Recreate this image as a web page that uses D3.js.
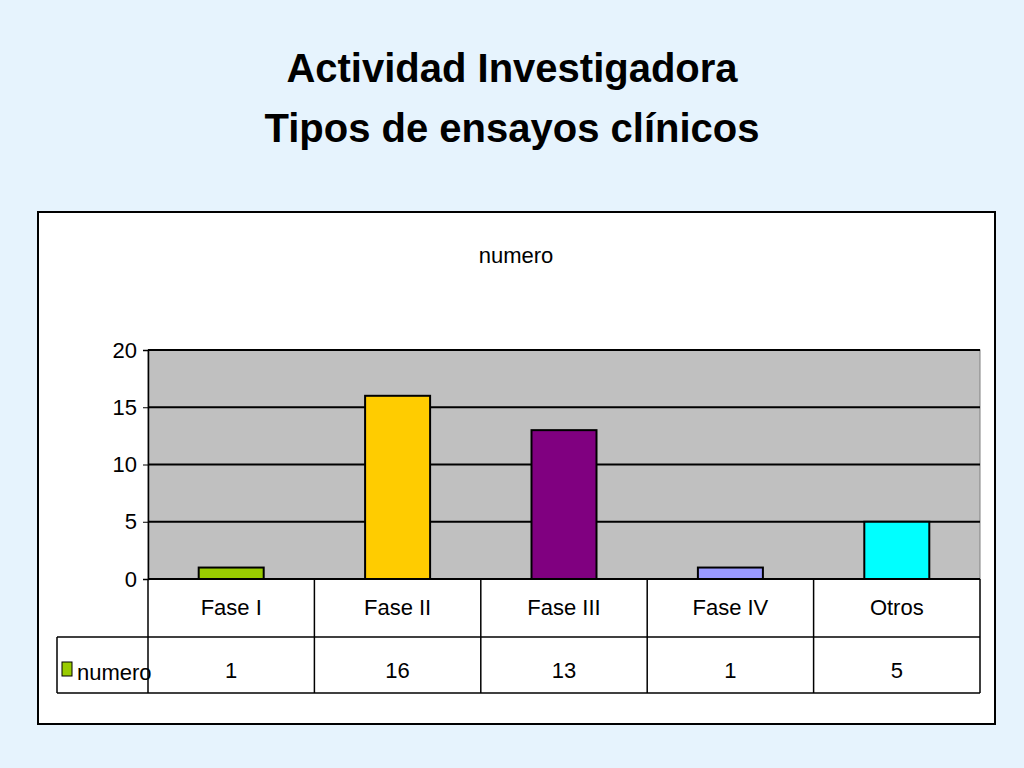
<!DOCTYPE html>
<html><head><meta charset="utf-8">
<script src="https://cdn.jsdelivr.net/npm/d3@7"></script>
<style>body{margin:0;background:#e6f3fd}svg{display:block}</style>
</head><body><svg width="1024" height="768"></svg>
<script>
const categories = ["Fase I", "Fase II", "Fase III", "Fase IV", "Otros"];
const values = [1, 16, 13, 1, 5];
const colors = ["#99cc00", "#ffcc00", "#800080", "#9999ff", "#00ffff"];
const yTicks = [0, 5, 10, 15, 20];
const seriesName = "numero";

const svg = d3.select("svg");
const narrow = "'Liberation Sans Narrow', 'Arial Narrow', sans-serif";

svg.append("rect").attr("width", 1024).attr("height", 768).attr("fill", "#e6f3fd");
svg.selectAll(".title").data(["Actividad Investigadora", "Tipos de ensayos clínicos"]).join("text")
  .attr("x", 512).attr("y", (d, i) => 82 + i * 60).attr("text-anchor", "middle")
  .style("font", "bold 40px 'Liberation Sans', Arial, sans-serif").attr("fill", "#000").text(d => d);

svg.append("rect").attr("x", 38).attr("y", 212).attr("width", 957).attr("height", 512)
  .attr("fill", "#fff").attr("stroke", "#000").attr("stroke-width", 2);
svg.append("text").attr("x", 516).attr("y", 263).attr("text-anchor", "middle")
  .style("font", "22px " + narrow).text(seriesName);

const pLeft = 148, pRight = 980, pTop = 350, pBottom = 579;
const x = d3.scaleBand().domain(categories).range([pLeft, pRight]);
const y = d3.scaleLinear().domain([0, 20]).range([pBottom, pTop]);

svg.append("rect").attr("x", pLeft).attr("y", pTop).attr("width", pRight - pLeft).attr("height", pBottom - pTop)
  .attr("fill", "#c0c0c0").attr("stroke", "#808080");
svg.selectAll(".grid").data(yTicks).join("line")
  .attr("x1", pLeft).attr("x2", pRight).attr("y1", d => y(d)).attr("y2", d => y(d))
  .attr("stroke", "#000").attr("stroke-width", 2);

const yAxis = svg.append("g").attr("transform", `translate(${pLeft},0)`)
  .call(d3.axisLeft(y).tickValues(yTicks).tickSize(5).tickPadding(6));
yAxis.select(".domain").attr("stroke-width", 1.5);
yAxis.selectAll("text").style("font", "22px " + narrow);

const bw = 65;
svg.selectAll(".bar").data(values).join("rect")
  .attr("x", (d, i) => x(categories[i]) + x.bandwidth() / 2 - bw / 2)
  .attr("width", bw).attr("y", d => y(d)).attr("height", d => y(0) - y(d))
  .attr("fill", (d, i) => colors[i]).attr("stroke", "#000").attr("stroke-width", 2);

// data table
const r1 = 637, r2 = 693;
const g = svg.append("g").attr("stroke", "#000").attr("stroke-width", 1.5);
g.append("line").attr("x1", 57).attr("x2", pRight).attr("y1", r1).attr("y2", r1);
g.append("line").attr("x1", 57).attr("x2", pRight).attr("y1", r2).attr("y2", r2);
g.append("line").attr("x1", 57).attr("x2", 57).attr("y1", r1).attr("y2", r2);
g.selectAll(".v").data(categories.map(c => x(c)).concat([pRight])).join("line")
  .attr("x1", d => d).attr("x2", d => d).attr("y1", pBottom).attr("y2", r2);

svg.selectAll(".cat").data(categories).join("text")
  .attr("x", d => x(d) + x.bandwidth() / 2).attr("y", 615).attr("text-anchor", "middle")
  .style("font", "22px " + narrow).text(d => d);
svg.selectAll(".val").data(values).join("text")
  .attr("x", (d, i) => x(categories[i]) + x.bandwidth() / 2).attr("y", 678).attr("text-anchor", "middle")
  .style("font", "22px " + narrow).text(d => d);
svg.append("rect").attr("x", 62).attr("y", 662).attr("width", 10).attr("height", 14)
  .attr("fill", colors[0]).attr("stroke", "#000");
svg.append("text").attr("x", 77).attr("y", 680).style("font", "22px " + narrow).text(seriesName);
</script></body></html>
